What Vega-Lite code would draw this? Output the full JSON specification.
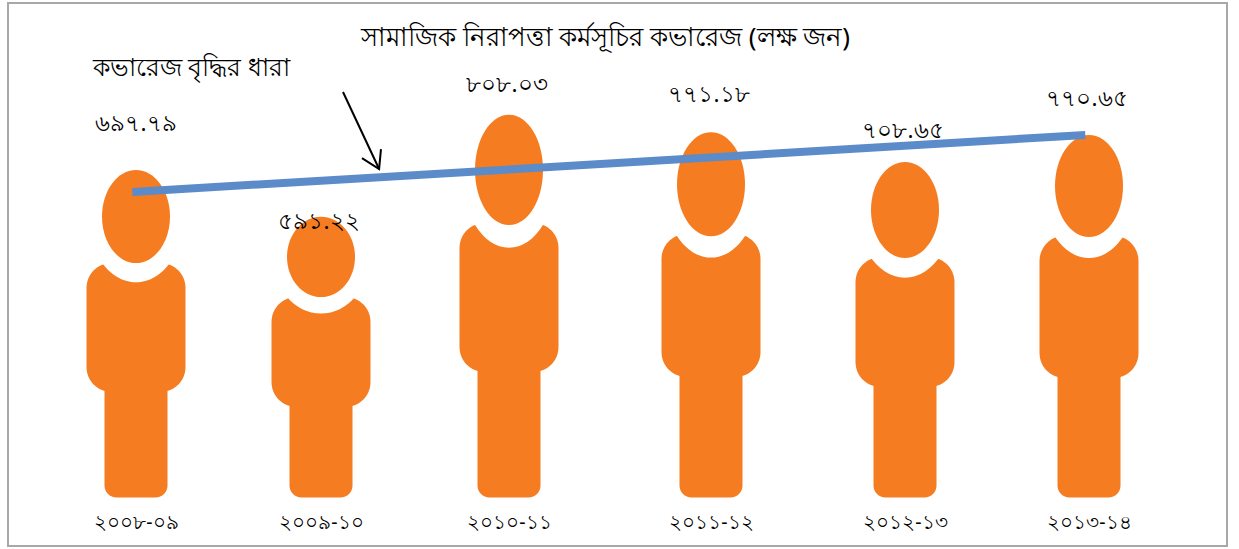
{
"$schema":"https://vega.github.io/schema/vega-lite/v6.json",
"width":1219,"height":543,"autosize":"none",
"padding":{"left":8,"top":3,"right":12,"bottom":3},
"background":"white",
"view":{"stroke":"#a8a8a8","strokeWidth":2,"fill":"white"},
"title":{"text":"সামাজিক নিরাপত্তা কর্মসূচির কভারেজ (লক্ষ জন)","anchor":"middle","dx":-12,"offset":-49,"fontSize":25.8,"fontWeight":"normal","font":"Noto Sans","color":"#000000"},
"datasets":{
"people":[
{"fiscalYear":2008,"period":"২০০৮-০৯","value":697.79,"label":"৬৯৭.৭৯","headCenter":592.8,"torsoTop":494.7,"torsoBottom":222.6},
{"fiscalYear":2009,"period":"২০০৯-১০","value":591.22,"label":"৫৯১.২২","headCenter":507.4,"torsoTop":423,"torsoBottom":190.9},
{"fiscalYear":2010,"period":"২০১০-১১","value":808.03,"label":"৮০৮.০৩","headCenter":691,"torsoTop":579,"torsoBottom":264.8},
{"fiscalYear":2011,"period":"২০১১-১২","value":771.18,"label":"৭৭১.১৮","headCenter":661,"torsoTop":556,"torsoBottom":254.2},
{"fiscalYear":2012,"period":"২০১২-১৩","value":708.65,"label":"৭০৮.৬৫","headCenter":606.5,"torsoTop":507,"torsoBottom":233},
{"fiscalYear":2013,"period":"২০১৩-১৪","value":770.65,"label":"৭৭০.৬৫","headCenter":657,"torsoTop":552,"torsoBottom":252}
],
"trend":[{"fiscalYear":2007.98,"level":644.5},{"fiscalYear":2012.98,"level":764.8}],
"arrow":[
{"part":"shaft","seq":1,"fiscalYear":2009.117,"level":855.5},
{"part":"shaft","seq":2,"fiscalYear":2009.309,"level":693},
{"part":"head","seq":1,"fiscalYear":2009.218,"level":716},
{"part":"head","seq":2,"fiscalYear":2009.309,"level":693},
{"part":"head","seq":3,"fiscalYear":2009.319,"level":735}
],
"note":[{"fiscalYear":2008.3,"level":904,"text":"কভারেজ বৃদ্ধির ধারা"}]
},
"data":{"name":"people"},
"encoding":{"x":{"field":"fiscalYear","type":"quantitative","title":null,
"scale":{"domain":[2008,2009,2010,2011,2012,2013],"range":[128,313,501,703,897,1081],"padding":0,"nice":false,"zero":false},
"axis":{"values":[2008,2009,2010,2011,2012,2013],"labelExpr":"{2008:'২০০৮-০৯',2009:'২০০৯-১০',2010:'২০১০-১১',2011:'২০১১-১২',2012:'২০১২-১৩',2013:'২০১৩-১৪'}[datum.value]","domain":false,"ticks":false,"grid":false,"offset":-33,"labelPadding":0,"labelFontSize":19.5,"labelFont":"Noto Sans","labelColor":"#000000","labelOverlap":false,"labelFlush":false}}},
"layer":[
{"mark":{"type":"bar","width":63,"color":"#f57c20","cornerRadius":12},
"encoding":{"y":{"field":"torsoTop","type":"quantitative","title":null,"axis":null,"scale":{"domain":[-102.3,1043.2],"nice":false,"zero":false}},"y2":{"datum":0}}},
{"mark":{"type":"bar","width":99,"color":"#f57c20","cornerRadius":25},
"encoding":{"y":{"field":"torsoTop","type":"quantitative"},"y2":{"field":"torsoBottom"}}},
{"mark":{"type":"point","filled":true,"size":9216,"color":"#ffffff","opacity":1,"strokeWidth":0},
"encoding":{"y":{"field":"headCenter","type":"quantitative"},"shape":{"field":"fiscalYear","type":"nominal","legend":null,"scale":{"domain":[2008,2009,2010,2011,2012,2013],"range":[
"M-1,0A1,1.37,0,1,1,1,0A1,1.37,0,1,1,-1,0Z",
"M-1,0A1,1.18,0,1,1,1,0A1,1.18,0,1,1,-1,0Z",
"M-1,0A1,1.62,0,1,1,1,0A1,1.62,0,1,1,-1,0Z",
"M-1,0A1,1.53,0,1,1,1,0A1,1.53,0,1,1,-1,0Z",
"M-1,0A1,1.41,0,1,1,1,0A1,1.41,0,1,1,-1,0Z",
"M-1,0A1,1.5,0,1,1,1,0A1,1.5,0,1,1,-1,0Z"]}}}},
{"mark":{"type":"point","filled":true,"size":4624,"color":"#f57c20","opacity":1,"strokeWidth":0},
"encoding":{"y":{"field":"headCenter","type":"quantitative"},"shape":{"field":"fiscalYear","type":"nominal","legend":null}}},
{"data":{"name":"trend"},"mark":{"type":"line","color":"#5b8bc9","strokeWidth":8,"strokeCap":"butt"},
"encoding":{"y":{"field":"level","type":"quantitative"}}},
{"data":{"name":"arrow"},"mark":{"type":"line","color":"#000000","strokeWidth":2},
"encoding":{"y":{"field":"level","type":"quantitative"},"detail":{"field":"part"},"order":{"field":"seq"}}},
{"data":{"name":"note"},"mark":{"type":"text","fontSize":24.5,"font":"Noto Sans","color":"#000000"},
"encoding":{"y":{"field":"level","type":"quantitative"},"text":{"field":"text"}}},
{"transform":[{"filter":"datum.fiscalYear==2008"}],"mark":{"type":"text","dy":-43,"fontSize":22.5,"font":"Noto Sans","color":"#000000"},"encoding":{"y":{"field":"value","type":"quantitative"},"text":{"field":"label"}}},
{"transform":[{"filter":"datum.fiscalYear==2009"}],"mark":{"type":"text","dy":5,"dx":-2,"fontSize":22.5,"font":"Noto Sans","color":"#000000"},"encoding":{"y":{"field":"value","type":"quantitative"},"text":{"field":"label"}}},
{"transform":[{"filter":"datum.fiscalYear==2010"}],"mark":{"type":"text","dy":-29,"dx":-2,"fontSize":22.5,"font":"Noto Sans","color":"#000000"},"encoding":{"y":{"field":"value","type":"quantitative"},"text":{"field":"label"}}},
{"transform":[{"filter":"datum.fiscalYear==2011"}],"mark":{"type":"text","dy":-37,"dx":-2,"fontSize":22.5,"font":"Noto Sans","color":"#000000"},"encoding":{"y":{"field":"value","type":"quantitative"},"text":{"field":"label"}}},
{"transform":[{"filter":"datum.fiscalYear==2012"}],"mark":{"type":"text","dy":-31,"dx":-2,"fontSize":22.5,"font":"Noto Sans","color":"#000000"},"encoding":{"y":{"field":"value","type":"quantitative"},"text":{"field":"label"}}},
{"transform":[{"filter":"datum.fiscalYear==2013"}],"mark":{"type":"text","dy":-33,"dx":-2,"fontSize":22.5,"font":"Noto Sans","color":"#000000"},"encoding":{"y":{"field":"value","type":"quantitative"},"text":{"field":"label"}}}
]
}
